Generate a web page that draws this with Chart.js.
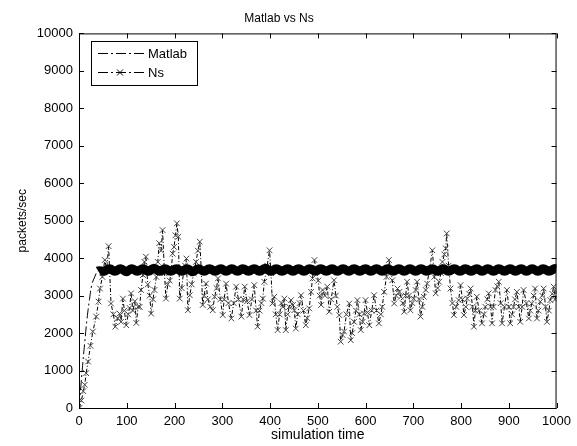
<!DOCTYPE html>
<html>
<head>
<meta charset="utf-8">
<script src="https://cdn.jsdelivr.net/npm/chart.js@4.4.0/dist/chart.umd.min.js"></script>
<style>
  html, body { margin: 0; padding: 0; background: #fff; }
  #wrap { width: 577px; height: 446px; }
</style>
</head>
<body>
<div id="wrap"><canvas id="chart"></canvas></div>
<script>
// Matlab model: quick ramp, then a steady band that wobbles around 3700
const matTime = [0, 4, 8, 12, 17, 22, 27, 33, 40,
  52, 64, 75, 87, 99, 110, 122, 134, 145, 157, 169, 180, 192, 204, 215, 227, 238, 250,
  262, 273, 285, 297, 308, 320, 332, 343, 355, 367, 378, 390, 402, 413, 425, 437, 448, 460,
  471, 483, 495, 506, 518, 530, 541, 553, 565, 576, 588, 600, 611, 623, 635, 646, 658, 670,
  681, 693, 705, 716, 728, 740, 751, 763, 774, 786, 798, 809, 821, 833, 844, 856, 868, 879,
  891, 903, 914, 926, 937, 949, 961, 972, 984, 996, 1000];
const matRate = [0, 600, 1200, 1750, 2400, 2900, 3300, 3500, 3660,
  3650, 3720, 3650, 3720, 3640, 3720, 3650, 3720, 3650, 3730, 3650, 3720, 3650, 3720, 3650, 3720, 3640, 3720,
  3650, 3720, 3650, 3720, 3650, 3720, 3650, 3720, 3650, 3720, 3650, 3730, 3650, 3720, 3650, 3720, 3650, 3720,
  3650, 3720, 3650, 3720, 3650, 3720, 3650, 3720, 3650, 3720, 3650, 3720, 3650, 3720, 3650, 3720, 3650, 3720,
  3650, 3720, 3650, 3720, 3650, 3720, 3650, 3720, 3650, 3720, 3650, 3720, 3650, 3720, 3650, 3720, 3650, 3720,
  3650, 3720, 3650, 3720, 3650, 3720, 3650, 3720, 3650, 3720, 3710];

// Ns simulation samples
const nsTime = [
  1, 5, 9, 12, 15, 19, 24, 29, 36, 41,
  44, 49, 54, 58, 62, 67, 72, 76, 81, 85,
  88, 92, 95, 99, 103, 106, 109, 113, 117, 120,
  124, 127, 130, 134, 137, 140, 144, 148, 151, 155,
  158, 162, 165, 168, 172, 175, 179, 182, 186, 190,
  193, 196, 199, 202, 205, 208, 211, 215, 219, 222,
  225, 228, 232, 236, 240, 245, 249, 253, 256, 259,
  262, 266, 270, 275, 280, 284, 288, 291, 296, 301,
  304, 308, 313, 319, 324, 329, 334, 340, 344, 347,
  352, 357, 362, 367, 371, 374, 378, 382, 385, 388,
  394, 399, 402, 405, 409, 412, 416, 420, 424, 427,
  430, 433, 437, 440, 444, 448, 451, 454, 458, 462,
  465, 470, 475, 478, 482, 486, 489, 493, 497, 501,
  504, 507, 510, 515, 520, 524, 528, 534, 538, 541,
  545, 548, 552, 555, 560, 566, 569, 572, 576, 580,
  583, 587, 590, 594, 597, 600, 604, 608, 613, 618,
  623, 628, 632, 635, 639, 644, 649, 653, 656, 660,
  664, 667, 671, 674, 678, 681, 684, 687, 691, 694,
  698, 701, 705, 708, 712, 715, 719, 722, 726, 729,
  734, 740, 744, 747, 751, 754, 758, 761, 765, 768,
  770, 774, 778, 782, 785, 790, 795, 799, 803, 806,
  810, 813, 817, 820, 824, 827, 830, 833, 838, 844,
  848, 851, 855, 858, 862, 865, 868, 872, 876, 879,
  883, 886, 891, 896, 900, 903, 907, 910, 913, 917,
  921, 924, 928, 931, 937, 942, 945, 948, 952, 955,
  959, 962, 966, 970, 973, 977, 980, 984, 987, 991,
  994, 997, 1000];
const nsRate = [
  0, 200, 450, 620, 930, 1240, 1660, 2040, 2440, 2840,
  3190, 3500, 3950, 3700, 4320, 2790, 2500, 2170, 2400, 2520,
  2300, 2920, 2600, 2210, 2500, 2670, 3060, 2600, 2850, 2270,
  2700, 2700, 3150, 3550, 3900, 4040, 3300, 3000, 2520, 2900,
  3150, 3500, 3900, 4400, 4200, 4750, 3600, 2920, 3300, 3400,
  3650, 4120, 4300, 4610, 4930, 4570, 2920, 3200, 3630, 3800,
  3990, 2610, 3010, 3300, 3600, 3900, 4200, 4440, 3700, 2750,
  3000, 3320, 2900, 2700, 2610, 2970, 3200, 3460, 2900, 2480,
  2900, 3320, 2800, 2390, 2800, 3240, 2900, 2440, 2900, 3240,
  2850, 2480, 2900, 3280, 2600, 2170, 2600, 2800, 2920, 3370,
  3800, 4210, 3600, 2790, 2970, 2500, 2080, 2500, 2800, 2700,
  2920, 2080, 2500, 2700, 2880, 2750, 2610, 2120, 2500, 2800,
  3010, 2600, 2210, 2400, 2660, 3100, 3460, 3950, 3700, 3400,
  3000, 2750, 3150, 3000, 3240, 2570, 2900, 3410, 3000, 2700,
  2480, 1770, 1950, 2040, 2500, 2790, 1810, 2000, 2300, 2600,
  2880, 2500, 2080, 2300, 2520, 2880, 2550, 2210, 2600, 3010,
  2600, 2260, 2500, 2700, 3100, 3500, 3950, 3700, 3410, 2790,
  3000, 3190, 3100, 2970, 2800, 2570, 3000, 3370, 3000, 2610,
  2800, 2920, 3150, 3370, 2900, 2440, 2700, 2970, 3150, 3320,
  3700, 4210, 3500, 3060, 3200, 3370, 3600, 3900, 4100, 4260,
  4660, 3800, 3190, 2800, 2480, 2700, 2880, 3280, 2900, 2480,
  2700, 2920, 3050, 3190, 2700, 2170, 2600, 2970, 2600, 2260,
  2500, 2700, 2900, 3060, 2700, 2260, 2700, 3150, 3250, 3370,
  2800, 2260, 2700, 3150, 2700, 2260, 2500, 2700, 2900, 3100,
  2700, 2300, 2700, 3150, 2800, 2390, 2600, 2790, 3000, 3190,
  2390, 2600, 2840, 3000, 3190, 2700, 2300, 2600, 2880, 3050,
  3240, 2900, 3100];

const xTicks = [0, 100, 200, 300, 400, 500, 600, 700, 800, 900, 1000];
const yTicks = [0, 1000, 2000, 3000, 4000, 5000, 6000, 7000, 8000, 9000, 10000];
const seriesNames = ['Matlab', 'Ns'];

const FONT = 'Arial, "Liberation Sans", sans-serif';
const dashDot = [10, 3, 2, 3];

// box around the plot, inward ticks and a Matlab-like legend
const matlabFrame = {
  id: 'matlabFrame',
  afterDatasetsDraw(chart) {
    const { ctx, chartArea: a, scales: { x, y } } = chart;
    ctx.save();
    ctx.strokeStyle = '#000';
    ctx.lineWidth = 1;
    ctx.setLineDash([]);
    ctx.strokeRect(a.left + 0.5, a.top + 0.5, a.right - a.left - 1, a.bottom - a.top);
    ctx.beginPath();
    xTicks.forEach(v => {
      const px = Math.round(x.getPixelForValue(v)) + 0.5;
      ctx.moveTo(px, a.bottom); ctx.lineTo(px, a.bottom - 5);
      ctx.moveTo(px, a.top); ctx.lineTo(px, a.top + 5);
    });
    yTicks.forEach(v => {
      const py = Math.round(y.getPixelForValue(v)) + 0.5;
      ctx.moveTo(a.left, py); ctx.lineTo(a.left + 5, py);
      ctx.moveTo(a.right, py); ctx.lineTo(a.right - 5, py);
    });
    ctx.stroke();

    // legend
    const lx = 91.5, ly = 41.5, lw = 106, lh = 44;
    ctx.fillStyle = '#fff';
    ctx.fillRect(lx, ly, lw, lh);
    ctx.strokeRect(lx, ly, lw, lh);
    ctx.font = '13px ' + FONT;
    ctx.textBaseline = 'middle';
    ctx.fillStyle = '#000';
    [53.5, 72.5].forEach((ry, i) => {
      ctx.setLineDash(dashDot);
      ctx.beginPath();
      ctx.moveTo(98, ry); ctx.lineTo(145, ry);
      ctx.stroke();
      ctx.setLineDash([]);
      if (i === 1) {
        ctx.beginPath();
        ctx.moveTo(117, ry - 3); ctx.lineTo(123, ry + 3);
        ctx.moveTo(123, ry - 3); ctx.lineTo(117, ry + 3);
        ctx.stroke();
      }
      ctx.fillText(seriesNames[i], 148, ry + 1);
    });
    ctx.restore();
  }
};

const ctx = document.getElementById('chart').getContext('2d');
new Chart(ctx, {
  type: 'line',
  data: {
    datasets: [
      {
        label: seriesNames[0],
        data: matTime.map((t, i) => ({ x: t, y: matRate[i] })),
        borderColor: '#000',
        borderWidth: 9,
        borderDash: [],
        pointRadius: 0,
        tension: 0.4,
        segment: {
          borderWidth: c => c.p0.parsed.x < 40 ? 1 : undefined,
          borderDash: c => c.p0.parsed.x < 40 ? dashDot : undefined
        }
      },
      {
        label: seriesNames[1],
        data: nsTime.map((t, i) => ({ x: t, y: nsRate[i] })),
        borderColor: '#000',
        borderWidth: 1,
        borderDash: [4, 2, 1, 2],
        pointStyle: 'crossRot',
        pointRadius: 4,
        pointBorderColor: '#444',
        pointBorderWidth: 1,
        tension: 0
      }
    ]
  },
  options: {
    responsive: true,
    maintainAspectRatio: false,
    animation: false,
    layout: { padding: { left: 0, right: 19, top: 0, bottom: 0 } },
    plugins: {
      legend: { display: false },
      tooltip: { enabled: false },
      title: {
        display: true,
        text: 'Matlab vs Ns',
        color: '#000',
        font: { family: FONT, size: 12, weight: 'normal' },
        padding: { top: 11, bottom: 8 }
      }
    },
    scales: {
      x: {
        type: 'linear',
        min: 0,
        max: 1000,
        afterBuildTicks: s => { s.ticks = xTicks.map(v => ({ value: v })); },
        afterFit: s => { s.height = 38; },
        grid: { display: false, drawTicks: false },
        border: { display: false },
        ticks: { color: '#000', padding: 6, maxRotation: 0, autoSkip: false, callback: v => String(v), font: { family: FONT, size: 13 } },
        title: {
          display: true,
          text: 'simulation time',
          color: '#000',
          font: { family: FONT, size: 14 },
          padding: { top: 0, bottom: 2 }
        }
      },
      y: {
        min: 0,
        max: 10000,
        afterBuildTicks: s => { s.ticks = yTicks.map(v => ({ value: v })); },
        afterFit: s => { s.width = 79; },
        grid: { display: false, drawTicks: false },
        border: { display: false },
        ticks: { color: '#000', padding: 6, autoSkip: false, callback: v => String(v), font: { family: FONT, size: 13 } },
        title: {
          display: true,
          text: 'packets/sec',
          color: '#000',
          font: { family: FONT, size: 12 },
          padding: { top: 15, bottom: 0 }
        }
      }
    }
  },
  plugins: [matlabFrame]
});
</script>
</body>
</html>
